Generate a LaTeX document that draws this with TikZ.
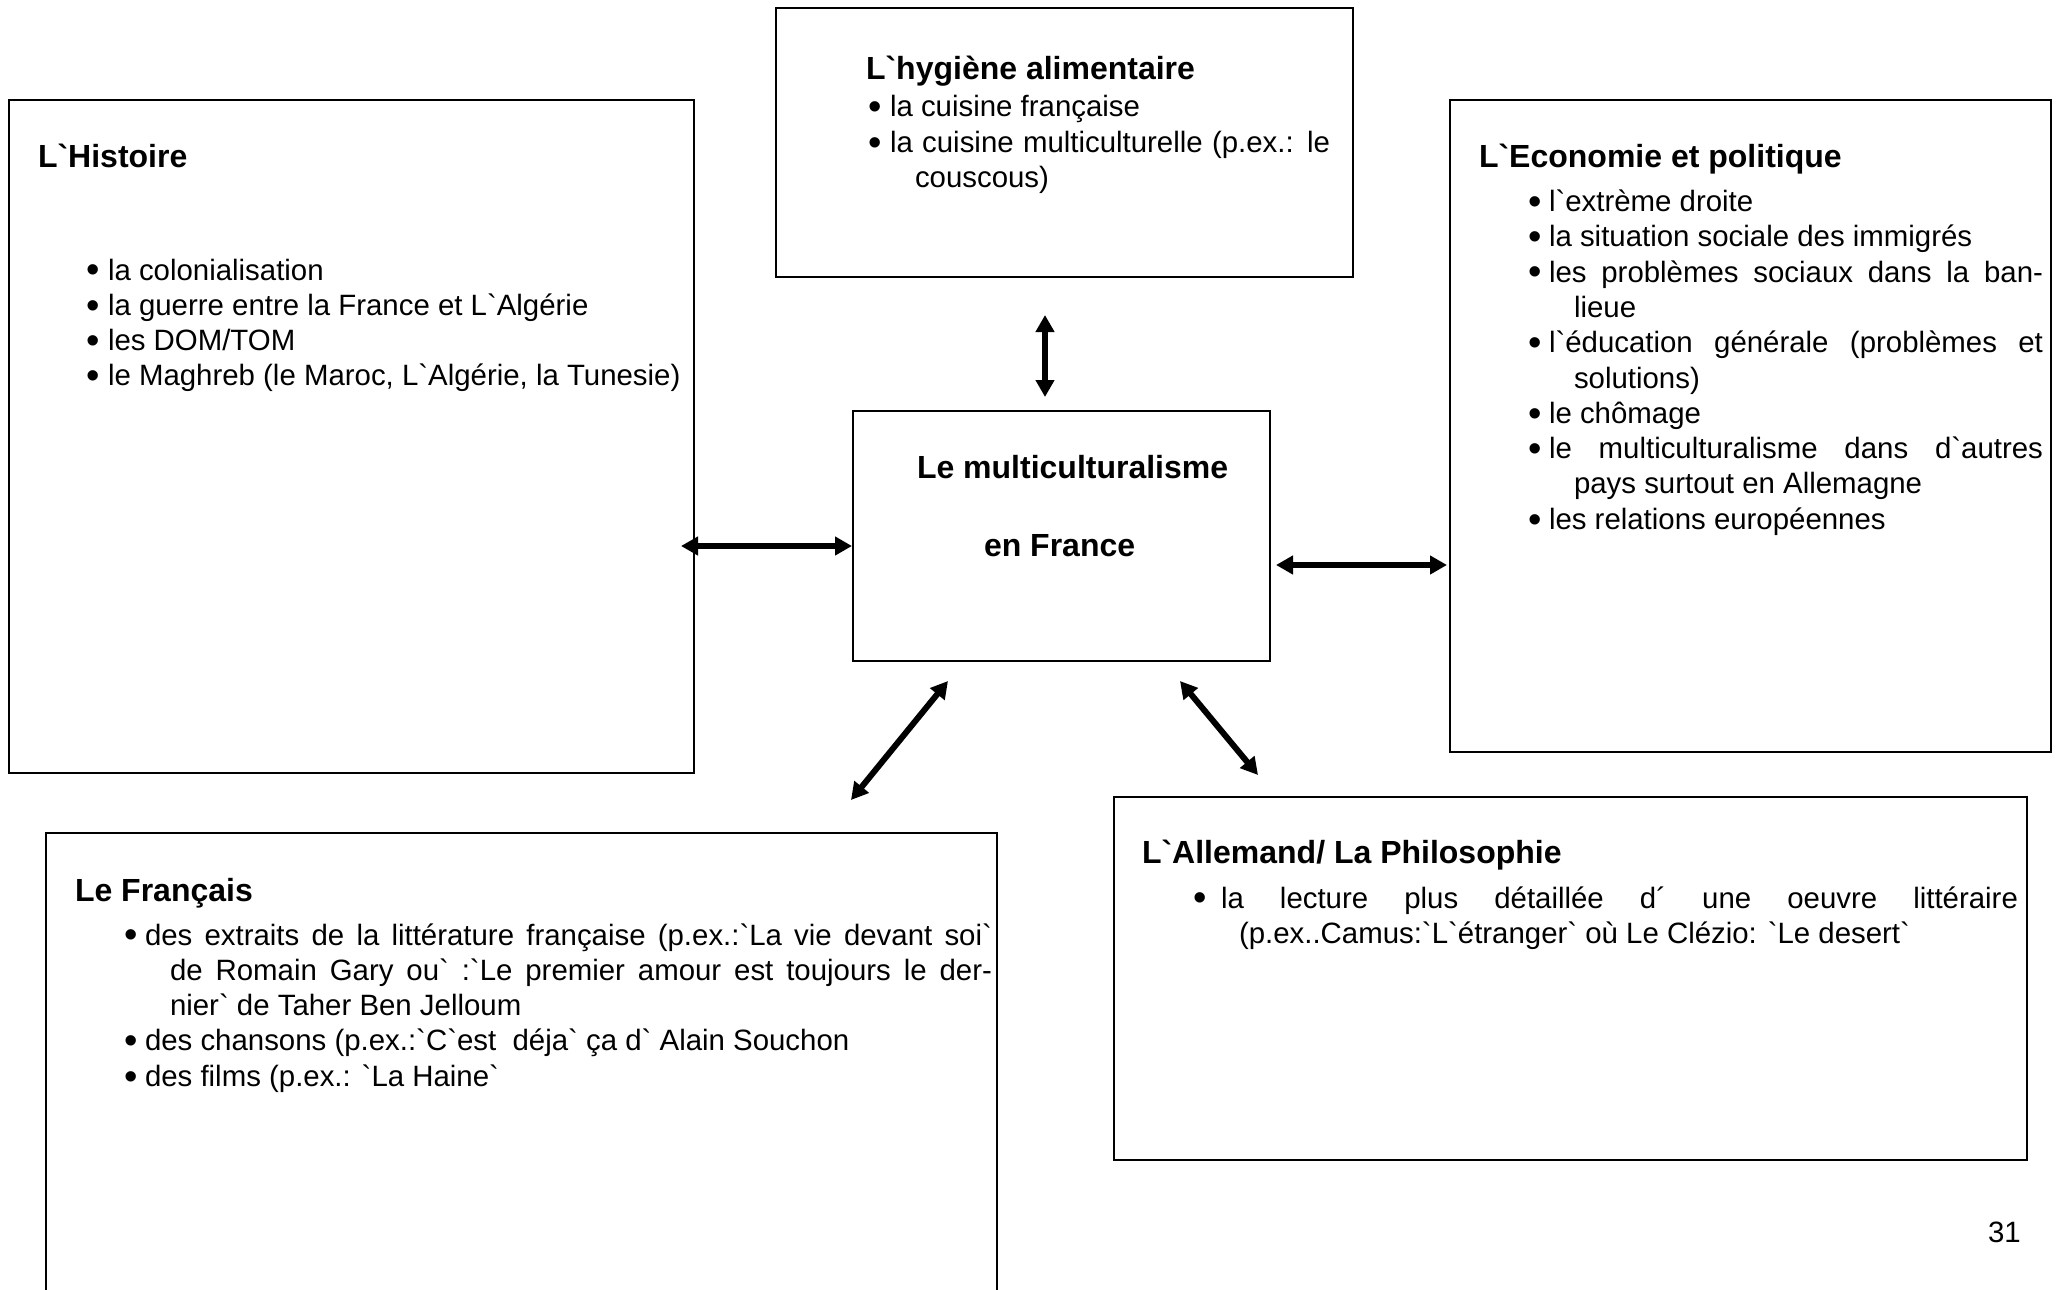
\documentclass[tikz,border=0pt]{standalone}
\usepackage{graphicx}
\usepackage{fontspec}
\setmainfont{Liberation Sans}[Ligatures=TeXOff]
\usetikzlibrary{arrows.meta}
\newcommand\bodyfont{\fontsize{29.4}{35.3}\selectfont}
\newcommand\headfont{\fontsize{32}{38}\selectfont\bfseries}
\newcommand\bu[1]{\makebox[#1][l]{\raisebox{-2.8pt}{\scalebox{1.3}{\textbullet}}}}
\newcommand\jline[2]{\makebox[#1][s]{#2}}
\newcommand\lst[2]{\parbox[t]{#1}{\bodyfont\lineskiplimit=-100pt\lineskip=0pt\parindent=0pt\parskip=0pt\raggedright #2}}
\begin{document}
\begin{tikzpicture}[x=1pt,y=-1pt,
  box/.style={draw, line width=1.8pt, inner sep=0pt, outer sep=0pt, anchor=north west},
  txt/.style={anchor=base west, inner sep=0pt, outer sep=0pt},
  head/.style={txt, font=\headfont},
  conn/.style={line width=6pt, arrows={Triangle[length=17pt,width=18pt]-Triangle[length=17pt,width=18pt]}}]
\path[use as bounding box] (0,0) rectangle (2065,1290);
\clip (0,0) rectangle (2065,1290);

% boxes
\node[box, minimum width=685pt, minimum height=673pt] (hist) at (9,100) {};
\node[box, minimum width=577pt, minimum height=269pt] (hyg) at (776,8) {};
\node[box, minimum width=601pt, minimum height=652pt] (eco) at (1450,100) {};
\node[box, minimum width=417pt, minimum height=250pt] (cen) at (853,411) {};
\node[box, minimum width=951pt, minimum height=477pt] (fr) at (46,833) {};
\node[box, minimum width=913pt, minimum height=363pt] (al) at (1114,797) {};

% headings
\node[head] (histH) at (38,167) {L`Histoire};
\node[head] (hygH) at (866,80) {L`hygiène alimentaire};
\node[head] (ecoH) at (1479,167) {L`Economie et politique};
\node[head] (cenA) at (917,478) {Le multiculturalisme};
\node[head] (cenB) at (984,556) {en France};
\node[head] (frH) at (75,901) {Le Français};
\node[head] (alH) at (1142,863) {L`Allemand/ La Philosophie};

% lists
\node[txt] (histL) at (86,280) {\lst{600pt}{%
\bu{22pt}la colonialisation\par
\bu{22pt}la guerre entre la France et L`Algérie\par
\bu{22pt}les DOM/TOM\par
\bu{22pt}le Maghreb (le Maroc, L`Algérie, la Tunesie)}};

\node[txt] (hygL) at (868,117) {\lst{520pt}{%
\bu{22pt}la cuisine française\par
\bu{22pt}\jline{440pt}{la cuisine multiculturelle (p.ex.: le}\par
\hspace*{47pt}couscous)}};

\node[txt] (ecoL) at (1528,211.5) {\lst{560pt}{%
\bu{21pt}l`extrème droite\par
\bu{21pt}la situation sociale des immigrés\par
\bu{21pt}\jline{494pt}{les problèmes sociaux dans la ban-}\par
\hspace*{46pt}lieue\par
\bu{21pt}\jline{494pt}{l`éducation générale (problèmes et}\par
\hspace*{46pt}solutions)\par
\bu{21pt}le chômage\par
\bu{21pt}\jline{494pt}{le multiculturalisme dans d`autres}\par
\hspace*{46pt}pays surtout en Allemagne\par
\bu{21pt}les relations européennes}};

\node[txt] (frL) at (124,945) {\lst{900pt}{%
\bu{21pt}\jline{847pt}{des extraits de la littérature française (p.ex.:`La vie devant soi`}\par
\hspace*{46pt}\jline{822pt}{de Romain Gary ou` :`Le premier amour est toujours le der-}\par
\hspace*{46pt}nier` de Taher Ben Jelloum\par
\bu{21pt}des chansons (p.ex.:`C`est~ déja` ça d` Alain Souchon\par
\bu{21pt}des films (p.ex.: `La Haine`}};

\node[txt] (alL) at (1193,908) {\lst{860pt}{%
\bu{28pt}\jline{797pt}{la lecture plus détaillée d´ une oeuvre littéraire}\par
\hspace*{46pt}(p.ex..Camus:`L`étranger` où Le Clézio: `Le desert`}};

\node[txt, font=\bodyfont] (page) at (1988,1242) {31};

% connectors
\coordinate (vT) at (1045,315);
\coordinate (vB) at (1045,397);
\coordinate (lL) at (681,546);
\coordinate (lR) at (852,546);
\coordinate (rL) at (1276,565);
\coordinate (rR) at (1447,565);
\coordinate (dlA) at (948,681);
\coordinate (dlB) at (851,800);
\coordinate (drA) at (1180,681);
\coordinate (drB) at (1258,775);
\draw[conn] (vT) -- (vB);
\draw[conn] (lL) -- (lR);
\draw[conn] (rL) -- (rR);
\draw[conn] (dlA) -- (dlB);
\draw[conn] (drA) -- (drB);
\end{tikzpicture}
\end{document}
